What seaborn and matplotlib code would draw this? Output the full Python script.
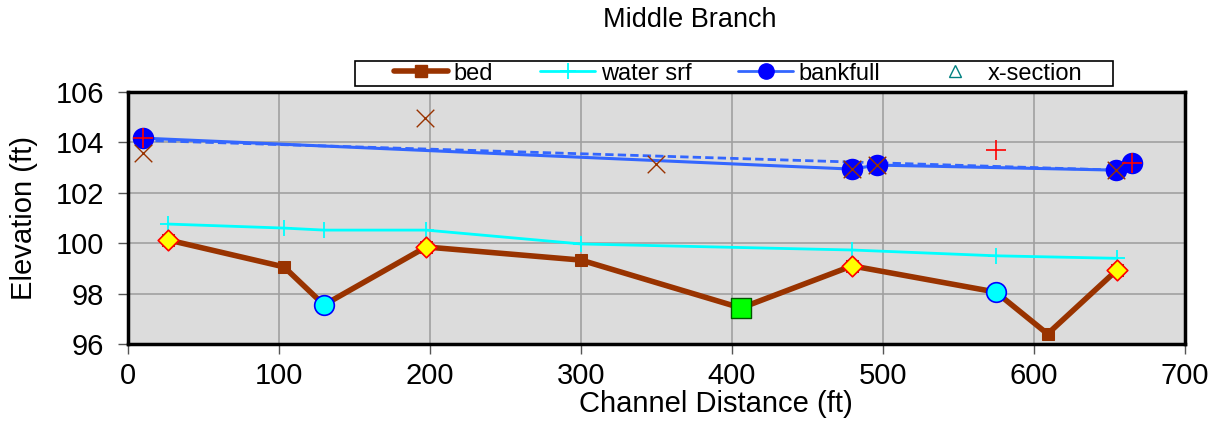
import matplotlib
matplotlib.use("Agg")
import matplotlib.pyplot as plt
from matplotlib.lines import Line2D
from matplotlib.patches import Rectangle
import seaborn as sns

# ---- data ----
bed_x = [26.5, 103.3, 129.8, 197.4, 300, 406, 479.5, 574.8, 609, 655]
bed_y = [100.13, 99.06, 97.55, 99.85, 99.33, 97.43, 99.1, 98.06, 96.4, 98.94]
riffle_x = [26.5, 197.4, 479.5, 655]
riffle_y = [100.13, 99.85, 99.1, 98.94]
pool_x = [129.8, 574.8]
pool_y = [97.55, 98.06]
run_x = [406]
run_y = [97.43]
water_x = [26.5, 103.3, 129.8, 197.4, 300, 479.5, 574.8, 655]
water_y = [100.76, 100.6, 100.52, 100.52, 99.97, 99.73, 99.5, 99.4]
bank_x = [9.9, 479.5, 496, 654.3, 665]
bank_y = [104.17, 102.94, 103.1, 102.9, 103.2]
trend_x = [9.9, 655]
trend_y = [104.08, 102.9]
xmark_x = [9.9, 196.7, 349.7, 479.5, 496, 654.3]
xmark_y = [103.58, 104.97, 103.14, 102.94, 103.1, 102.9]
plus_x = [9.9, 574.8, 665]
plus_y = [104.17, 103.7, 103.2]
legend_labels = ["bed", "water srf", "bankfull", "x-section"]
title = "Middle Branch"
xlabel = "Channel Distance (ft)"
ylabel = "Elevation (ft)"

sns.set_style("white")
plt.rcParams['font.family'] = ['Liberation Sans', 'DejaVu Sans']
plt.rcParams['text.color'] = 'black'
plt.rcParams['axes.labelcolor'] = 'black'
plt.rcParams['xtick.color'] = 'black'
plt.rcParams['ytick.color'] = 'black'

W, H = 1222, 421
fig = plt.figure(figsize=(W/100, H/100), dpi=100)
ax = fig.add_axes([128/W, 1-344/H, (1185-128)/W, (344-92)/H])
ax.set_facecolor("#DCDCDC")

BROWN = "#993300"
BLUE = "#3366FF"

sns.lineplot(x=trend_x, y=trend_y, ax=ax, color=BLUE, lw=2, linestyle=(0, (3, 1.5)),
             sort=False, estimator=None, zorder=3)
sns.lineplot(x=bank_x, y=bank_y, ax=ax, color=BLUE, lw=2.2, sort=False, estimator=None, zorder=3)
sns.lineplot(x=water_x, y=water_y, ax=ax, color="#00FFFF", lw=2, marker="+", markersize=12,
             markeredgewidth=1.3, markeredgecolor="#00FFFF", sort=False, estimator=None, zorder=4)
sns.lineplot(x=bed_x, y=bed_y, ax=ax, color=BROWN, lw=4, marker="s", markersize=9,
             markeredgecolor=BROWN, sort=False, estimator=None, zorder=5)
sns.scatterplot(x=riffle_x, y=riffle_y, ax=ax, marker="D", s=110, color="#FFFF00",
                edgecolor="#FF0000", linewidth=1.2, zorder=6)
sns.scatterplot(x=pool_x, y=pool_y, ax=ax, marker="o", s=200, color="#00FFFF",
                edgecolor="#0000FF", linewidth=1.2, zorder=6)
sns.scatterplot(x=run_x, y=run_y, ax=ax, marker="s", s=220, color="#00FF00",
                edgecolor="#005500", linewidth=1.0, zorder=6)
sns.scatterplot(x=bank_x, y=bank_y, ax=ax, marker="o", s=240, color="#0000FF",
                edgecolor="#0000FF", linewidth=0, zorder=6)
sns.scatterplot(x=xmark_x, y=xmark_y, ax=ax, marker="x", s=160, color=BROWN,
                linewidth=1.0, zorder=7)
sns.scatterplot(x=plus_x, y=plus_y, ax=ax, marker="+", s=200, color="#FF0000",
                linewidth=1.2, zorder=8)

ax.set_xlim(0, 700)
ax.set_ylim(96, 106)
ax.set_xticks(range(0, 701, 100))
ax.set_yticks(range(96, 107, 2))
ax.grid(True, color="#A0A0A0", lw=1.2)
ax.set_axisbelow(True)
for s in ax.spines.values():
    s.set_color("black")
    s.set_linewidth(2.5)
ax.tick_params(axis="both", labelsize=21, length=7, width=1, color="#555555",
               direction="out", bottom=True, left=True)
ax.tick_params(axis="x", pad=6)
ax.tick_params(axis="y", pad=10)
ax.set_xlabel(xlabel, fontsize=21)
ax.set_ylabel(ylabel, fontsize=21)
ax.xaxis.set_label_coords((716-128)/(1185-128), -(404-344)/(344-92))
ax.xaxis.label.set_va("center")
ax.yaxis.set_label_coords(-(128-24)/(1185-128), 0.5)
ax.yaxis.label.set_va("center")
fig.text(690/W, 1-20/H, title, ha="center", va="center", fontsize=19.5)

handles = [
    Line2D([], [], color=BROWN, lw=4, marker="s", markersize=9),
    Line2D([], [], color="#00FFFF", lw=2, marker="+", markersize=12, markeredgewidth=1.3),
    Line2D([], [], color=BLUE, lw=2, marker="o", markersize=11, markerfacecolor="#0000FF",
           markeredgecolor="#0000FF"),
    Line2D([], [], color="none", marker="^", markersize=8, markerfacecolor="none",
           markeredgecolor="#008080", markeredgewidth=1.0),
]
leg = fig.legend(handles, legend_labels, ncol=4, loc="center",
                 bbox_to_anchor=(738/W, 1-73.5/H), borderaxespad=0, fontsize=17,
                 frameon=False, borderpad=0.0, handlelength=2.3,
                 columnspacing=2.0, handletextpad=0.25)
fig.patches.append(Rectangle((355/W, 1-86/H), (1113-355)/W, 25/H, transform=fig.transFigure,
                             facecolor="white", edgecolor="black", lw=1.2, zorder=0))

fig.savefig("out.png", dpi=100)
